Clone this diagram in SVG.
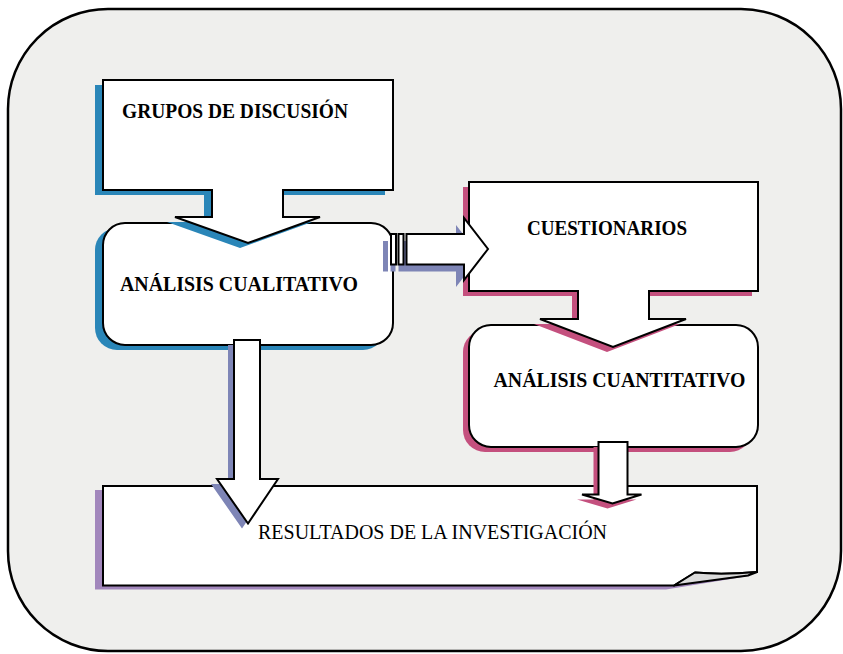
<svg xmlns="http://www.w3.org/2000/svg" width="843" height="654" viewBox="0 0 843 654">
<style>
.ln{stroke:#000;stroke-width:2;stroke-linejoin:miter;fill:#fff}
.blue{fill:#2a86b8}
.crim{fill:#c4507e}
.vio{fill:#7e85b6}
.pur{fill:#a287bc}
.b{font-family:"Liberation Serif",serif;font-weight:bold;font-size:20.5px;fill:#000}
.r{font-family:"Liberation Serif",serif;font-size:20px;fill:#000}
</style>
<rect x="8" y="9" width="833" height="642" rx="100" ry="100" fill="#efefed" stroke="#000" stroke-width="2.5"/>

<g id="resultados">
  <path class="pur" transform="translate(-8,4)" d="M103,486 H757 V572 L674,585.5 H103 Z"/>
  <path class="ln" d="M103,486 H757 V572 Q722,575 695,572.5 L674,585.5 H103 Z"/>
  <path d="M674,585.5 L695,572.5 Q722,575 757,572 L748,575.5 Z" fill="#dcdcdc" stroke="#000" stroke-width="2" stroke-linejoin="round"/>
  <text class="r" x="258" y="539" textLength="349" lengthAdjust="spacingAndGlyphs">RESULTADOS DE LA INVESTIGACIÓN</text>
</g>

<g id="cuantitativo">
  <rect class="crim" x="463" y="330" width="289" height="122" rx="22"/>
  <rect class="ln" x="469" y="325" width="289" height="122" rx="22"/>
  <text class="b" x="493.5" y="386.5" textLength="252" lengthAdjust="spacingAndGlyphs">ANÁLISIS CUANTITATIVO</text>
</g>

<g id="cuestionarios">
  <path class="crim" transform="translate(-6,5)" d="M469,182 H758 V291 H649 V319 H686 L613,347 L540,319 H578 V291 H469 Z"/>
  <path class="ln" d="M469,182 H758 V291 H649 V319 H686 L613,347 L540,319 H578 V291 H469 Z"/>
  <text class="b" x="527" y="234.5" textLength="160" lengthAdjust="spacingAndGlyphs">CUESTIONARIOS</text>
</g>

<g id="cualitativo">
  <rect class="blue" x="95" y="228" width="290" height="122" rx="22"/>
  <rect class="ln" x="103" y="223" width="290" height="122" rx="22"/>
  <text class="b" x="120" y="290.5" textLength="238" lengthAdjust="spacingAndGlyphs">ANÁLISIS CUALITATIVO</text>
</g>

<g id="grupos">
  <path class="blue" transform="translate(-8,5)" d="M103,80 H393 V190 H283 V217 H320 L248,243 L175,217 H212 V190 H103 Z"/>
  <path class="ln" d="M103,80 H393 V190 H283 V217 H320 L248,243 L175,217 H212 V190 H103 Z"/>
  <text class="b" x="122" y="118" textLength="226" lengthAdjust="spacingAndGlyphs">GRUPOS DE DISCUSIÓN</text>
</g>

<g id="connectors">
  <g transform="translate(-8,7)" class="vio">
    <rect x="391" y="234" width="5" height="30.5"/>
    <rect x="398.5" y="234" width="5" height="30.5"/>
    <path d="M406.5,234 H464 V218 L488,249 L464,280 V264.5 H406.5 Z"/>
  </g>
  <rect class="ln" x="391" y="234" width="5" height="30.5"/>
  <rect class="ln" x="398.5" y="234" width="5" height="30.5"/>
  <path class="ln" d="M406.5,234 H464 V218 L488,249 L464,280 V264.5 H406.5 Z"/>

  <path class="vio" transform="translate(-6,5)" d="M234,340 H260 V479 H278 L248,523.5 L217,479 H234 Z"/>
  <path class="ln" d="M234,340 H260 V479 H278 L248,523.5 L217,479 H234 Z"/>

  <path class="crim" transform="translate(-5,5)" d="M598.5,442 H627.5 V494.5 H641.5 L612.5,503.5 L582,494.5 H598.5 Z"/>
  <path class="ln" d="M598.5,442 H627.5 V494.5 H641.5 L612.5,503.5 L582,494.5 H598.5 Z"/>
</g>
</svg>
